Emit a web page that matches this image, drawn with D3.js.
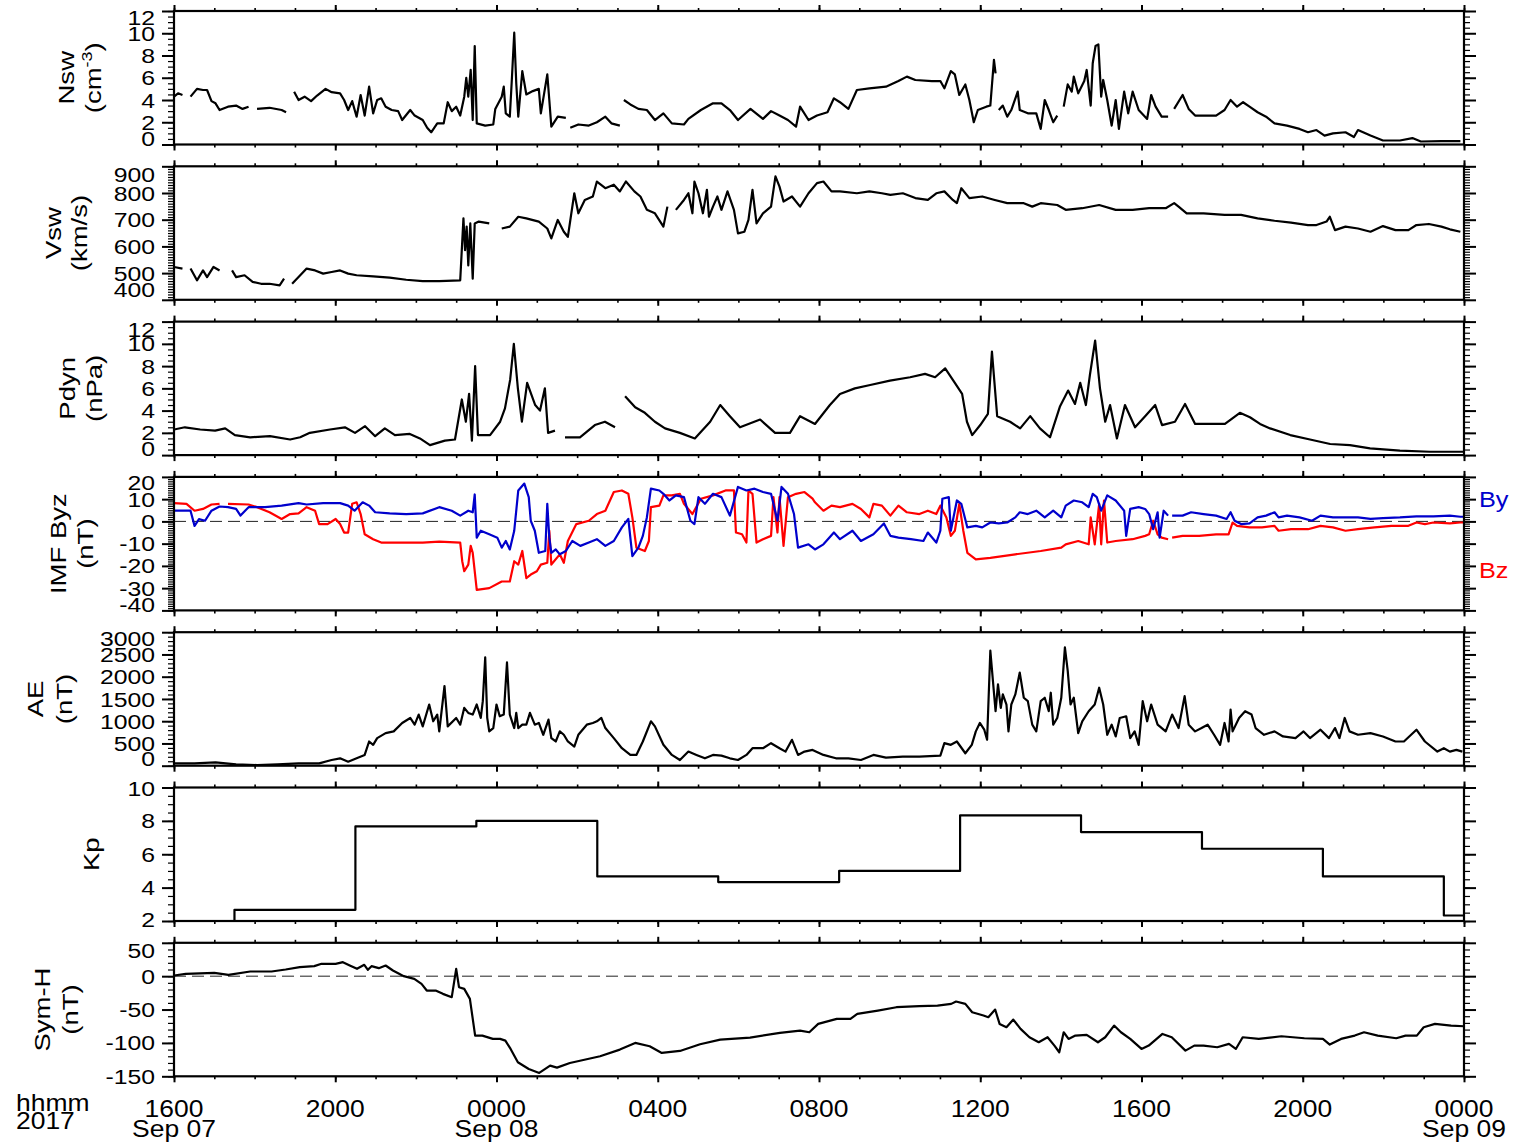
<!DOCTYPE html>
<html>
<head>
<meta charset="utf-8">
<script src="https://cdn.jsdelivr.net/npm/d3@7"></script>
<style>
    body { margin: 0; background: #fff; }
    svg text { font-family: "Liberation Sans", Arial, Helvetica, sans-serif; fill: #000; }
</style>
</head>
<body>
<svg id="chart" width="1514" height="1146"></svg>
<script>
// time is hours after 2017-09-07 16:00 UT (null = data gap)

const nsw = [
    [0,4.3],[0.1,4.6],[0.21,4.45],[0.3,null],[0.41,4.3],[0.57,5.0],[0.72,4.9],[0.82,4.9],[0.93,3.9],[1.03,3.7],
    [1.13,3.1],[1.34,3.4],[1.54,3.5],[1.7,3.2],[1.85,3.4],[1.95,null],[2.06,3.2],[2.37,3.3],[2.67,3.1],[2.78,2.9],
    [2.9,null],[2.98,4.75],[3.09,4.0],[3.24,4.3],[3.4,3.9],[3.55,4.4],[3.76,5.0],[3.91,4.7],[4.12,4.6],[4.22,4.0],
    [4.32,3.1],[4.42,3.9],[4.53,2.5],[4.63,4.45],[4.73,2.6],[4.84,5.2],[4.94,2.8],[5.04,4.0],[5.14,4.15],[5.25,3.4],
    [5.4,3.1],[5.56,3.0],[5.66,2.2],[5.86,3.1],[5.97,2.6],[6.17,2.2],[6.28,1.5],[6.38,1.1],[6.53,1.9],[6.69,1.9],
    [6.79,3.8],[6.89,3.0],[7.0,3.4],[7.1,2.6],[7.2,4.3],[7.25,6.0],[7.3,4.3],[7.36,6.7],[7.41,2.2],[7.46,8.85],
    [7.51,1.9],[7.72,1.7],[7.92,1.8],[7.97,3.2],[8.13,4.3],[8.18,5.2],[8.23,2.8],[8.33,2.5],[8.38,5.8],[8.44,10.05],
    [8.49,5.5],[8.54,2.5],[8.64,6.6],[8.74,4.5],[8.9,4.8],[9.05,5.0],[9.1,2.8],[9.26,6.3],[9.31,4.0],[9.36,1.6],
    [9.52,2.5],[9.72,2.4],[9.78,null],[9.83,1.5],[10.03,1.8],[10.29,1.7],[10.49,2.0],[10.7,2.5],[10.85,1.9],[11.06,1.7],
    [11.1,null],[11.16,4.0],[11.32,3.6],[11.52,3.2],[11.73,3.1],[11.93,2.2],[12.14,2.8],[12.35,1.9],[12.65,1.8],[12.76,2.3],
    [13.07,3.1],[13.37,3.7],[13.58,3.7],[13.79,3.1],[13.99,2.2],[14.3,3.2],[14.61,2.3],[14.81,3.0],[15.02,2.6],[15.23,2.2],
    [15.43,1.6],[15.53,3.4],[15.74,2.2],[15.95,2.6],[16.21,2.9],[16.37,4.15],[16.52,3.8],[16.73,3.2],[16.94,4.9],[17.25,5.05],
    [17.66,5.2],[17.97,5.7],[18.18,6.1],[18.39,5.8],[18.8,5.7],[19.01,5.7],[19.11,5.05],[19.27,6.6],[19.37,6.3],[19.48,4.45],
    [19.63,5.4],[19.73,4.0],[19.84,2.0],[19.94,3.1],[20.15,3.4],[20.25,3.5],[20.34,7.6],[20.38,6.4],[20.42,null],[20.46,3.1],
    [20.56,3.5],[20.67,2.5],[20.77,3.1],[20.93,4.75],[20.98,3.1],[21.18,2.8],[21.39,2.8],[21.5,1.4],[21.6,4.0],[21.7,3.1],
    [21.81,2.0],[21.91,2.6],[21.98,null],[22.07,3.4],[22.17,5.4],[22.27,4.75],[22.32,6.1],[22.43,4.6],[22.58,5.7],[22.64,6.7],
    [22.74,3.5],[22.79,7.3],[22.86,8.85],[22.93,9.0],[23.0,4.3],[23.05,5.8],[23.15,4.0],[23.26,1.7],[23.36,4.0],[23.44,1.4],
    [23.57,4.75],[23.67,2.8],[23.78,4.75],[23.93,3.1],[24.14,2.3],[24.24,4.45],[24.35,3.4],[24.5,2.5],[24.66,2.5],[24.72,null],
    [24.81,3.2],[25.02,4.45],[25.17,3.2],[25.33,2.6],[25.85,2.6],[26.06,3.1],[26.21,4.0],[26.37,3.4],[26.52,3.8],[26.68,3.4],
    [26.88,2.9],[27.09,2.5],[27.3,1.9],[27.61,1.7],[27.92,1.4],[28.13,1.1],[28.34,1.3],[28.54,0.8],[28.75,1.0],[29.06,1.1],
    [29.27,0.67],[29.37,1.3],[29.68,0.8],[29.99,0.36],[30.41,0.36],[30.72,0.58],[30.93,0.27],[31.44,0.3],[31.91,0.3]
];

const vsw = [
    [0,523],[0.21,517],[0.3,null],[0.41,517],[0.57,473],[0.72,510],[0.82,485],[0.98,523],[1.13,510],[1.25,null],
    [1.44,510],[1.54,485],[1.75,492],[1.95,467],[2.16,460],[2.37,460],[2.62,454],[2.73,479],[2.85,null],[2.93,460],
    [3.09,485],[3.29,517],[3.5,510],[3.7,498],[3.91,504],[4.12,510],[4.32,498],[4.53,492],[4.94,488],[5.35,483],
    [5.76,475],[6.17,470],[6.58,470],[7.1,473],[7.18,705],[7.22,586],[7.26,674],[7.3,529],[7.35,686],[7.41,479],
    [7.46,686],[7.56,693],[7.82,686],[7.95,null],[8.13,667],[8.33,674],[8.54,711],[8.74,705],[9.05,693],[9.26,667],
    [9.36,630],[9.52,699],[9.67,655],[9.77,636],[9.93,799],[10.03,724],[10.19,774],[10.39,787],[10.49,843],[10.7,818],
    [10.91,831],[11.06,806],[11.21,843],[11.42,806],[11.57,787],[11.73,737],[11.93,724],[12.14,674],[12.24,749],[12.32,null],
    [12.45,737],[12.65,774],[12.76,799],[12.86,724],[12.91,843],[13.01,799],[13.12,724],[13.22,812],[13.27,711],[13.37,749],
    [13.48,787],[13.58,737],[13.73,806],[13.89,737],[13.99,649],[14.15,655],[14.25,699],[14.35,812],[14.45,686],[14.61,724],
    [14.81,749],[14.92,862],[15.02,824],[15.12,768],[15.33,787],[15.53,749],[15.74,799],[15.95,837],[16.11,843],[16.31,806],
    [16.52,806],[16.94,799],[17.25,806],[17.56,799],[17.77,793],[18.08,799],[18.39,781],[18.7,774],[18.91,799],[19.11,806],
    [19.32,774],[19.42,762],[19.53,818],[19.73,781],[20.05,787],[20.36,774],[20.67,762],[21.08,762],[21.29,749],[21.5,762],
    [21.91,755],[22.12,737],[22.53,743],[22.95,755],[23.36,737],[23.78,737],[24.19,743],[24.6,743],[24.81,762],[24.92,749],
    [25.12,724],[25.54,724],[26.06,718],[26.47,718],[26.88,705],[27.3,696],[27.71,689],[28.13,680],[28.34,680],[28.59,693],
    [28.67,711],[28.8,661],[29.06,674],[29.37,667],[29.68,655],[29.99,676],[30.3,661],[30.62,661],[30.82,680],[31.13,684],
    [31.44,674],[31.65,664],[31.91,655]
];

const pdyn = [
    [0,2.3],[0.27,2.5],[0.65,2.3],[1.02,2.2],[1.27,2.4],[1.51,1.8],[1.89,1.6],[2.38,1.7],[2.88,1.4],[3.13,1.6],
    [3.37,2.0],[3.87,2.3],[4.24,2.5],[4.49,2.0],[4.74,2.6],[4.99,1.7],[5.23,2.4],[5.48,1.8],[5.85,1.9],[6.1,1.5],
    [6.35,0.9],[6.72,1.3],[6.97,1.4],[7.14,5.0],[7.24,3.0],[7.32,5.5],[7.39,1.3],[7.47,8.0],[7.54,1.8],[7.84,1.8],
    [8.09,3.0],[8.21,4.2],[8.34,6.8],[8.43,10.0],[8.53,6.0],[8.63,3.0],[8.76,6.5],[8.96,4.5],[9.08,4.0],[9.2,6.0],
    [9.28,2.0],[9.45,2.2],[9.55,null],[9.7,1.6],[10.07,1.6],[10.44,2.7],[10.69,3.0],[10.94,2.5],[11.05,null],[11.19,5.3],
    [11.44,4.3],[11.68,3.8],[11.93,3.0],[12.18,2.4],[12.55,2.0],[12.92,1.5],[13.3,3.0],[13.55,4.5],[13.79,3.5],[14.04,2.5],
    [14.54,3.2],[14.91,2.0],[15.28,2.0],[15.53,3.5],[15.9,2.8],[16.27,4.5],[16.52,5.5],[16.89,6.0],[17.27,6.3],[17.76,6.7],
    [18.26,7.0],[18.63,7.3],[18.88,7.0],[19.13,7.8],[19.37,6.5],[19.55,5.5],[19.67,3.0],[19.8,1.8],[20.0,2.7],[20.19,3.7],
    [20.29,9.3],[20.42,3.5],[20.74,3.0],[20.99,2.4],[21.24,3.5],[21.48,2.4],[21.73,1.6],[21.98,4.4],[22.18,5.8],[22.35,4.6],
    [22.48,6.5],[22.62,4.5],[22.72,7.2],[22.85,10.3],[22.97,6.0],[23.1,3.0],[23.22,4.5],[23.39,1.5],[23.59,4.5],[23.84,2.5],
    [24.09,3.5],[24.34,4.5],[24.51,2.7],[24.83,3.0],[25.08,4.6],[25.33,2.8],[25.7,2.8],[26.07,2.8],[26.44,3.8],[26.69,3.4],
    [26.94,2.8],[27.19,2.4],[27.69,1.8],[28.18,1.4],[28.68,1.0],[29.17,0.9],[29.67,0.6],[30.41,0.4],[31.16,0.3],[31.98,0.3]
];

const imf_by = [
    [0,4.8],[0.21,4.8],[0.41,4.8],[0.51,-2],[0.62,1],[0.77,0.3],[0.93,4.8],[1.13,6.7],[1.34,6.4],[1.54,5.6],
    [1.65,2.6],[1.85,6.4],[2.26,6.4],[2.67,7.1],[3.09,8.2],[3.29,7.6],[3.7,8.2],[4.12,8.2],[4.32,7.1],[4.48,4.8],
    [4.68,8.6],[4.84,7.1],[4.99,4.1],[5.35,3.6],[5.76,3.3],[6.17,3.6],[6.58,6.4],[6.89,4.8],[7.1,2.6],[7.3,4.8],
    [7.41,4.1],[7.46,12.1],[7.51,-7.3],[7.61,-4.2],[7.82,-5.8],[8.02,-7.3],[8.13,-11.8],[8.23,-8.8],[8.33,-12.6],[8.44,-4.2],
    [8.54,13.9],[8.69,17],[8.8,10.9],[8.85,0.3],[8.95,-4.2],[9.05,-14.1],[9.21,-13.3],[9.26,7.9],[9.31,-7.3],[9.36,-14.1],
    [9.47,-12.6],[9.57,-14.8],[9.72,-13.3],[9.88,-8.8],[10.08,-11],[10.29,-9.5],[10.49,-8.0],[10.7,-11],[10.91,-8.8],[11.11,-2.7],
    [11.27,1.1],[11.37,-15.6],[11.52,-11.8],[11.63,-6.5],[11.73,1.8],[11.83,14.7],[12.04,13.9],[12.14,12.4],[12.29,9.4],[12.45,11.7],
    [12.65,10.9],[12.81,0.3],[12.91,-1.2],[13.01,10.9],[13.17,7.9],[13.37,12.4],[13.58,10.9],[13.79,2.6],[13.99,15.5],[14.2,13.9],
    [14.4,14.7],[14.61,13.2],[14.81,12.4],[14.97,0.3],[15.07,15.5],[15.23,12.4],[15.38,3.3],[15.48,-11.8],[15.74,-10.3],[15.9,-12.6],
    [16.11,-10.3],[16.37,-5],[16.52,-8],[16.83,-4.2],[17.04,-8.8],[17.35,-5.8],[17.61,-0.9],[17.77,-6.5],[17.97,-7.3],[18.28,-8],
    [18.59,-8.8],[18.7,-5],[18.91,-9.5],[19.01,-4.2],[19.06,10.2],[19.22,10.9],[19.27,-4.2],[19.42,9.4],[19.53,7.9],[19.68,-2.7],
    [19.89,-2],[20.05,-2.7],[20.25,-0.5],[20.46,-0.9],[20.67,-0.5],[20.87,1.8],[20.98,4.1],[21.18,3.3],[21.39,4.8],[21.6,1.8],
    [21.81,4.8],[22.01,1.8],[22.12,7.1],[22.32,9.4],[22.53,8.6],[22.69,6.4],[22.79,12.4],[22.89,10.9],[23.0,4.8],[23.15,11.7],
    [23.36,9.4],[23.57,4.8],[23.62,-6.5],[23.72,5.6],[23.93,6.4],[24.09,5.6],[24.19,3.3],[24.29,-3.5],[24.4,4.1],[24.45,-7.3],
    [24.55,4.8],[24.66,2.6],[24.71,null],[24.76,2.6],[25.02,2.6],[25.23,4.1],[25.54,3.3],[25.85,2.6],[26.11,1.1],[26.21,4.1],
    [26.31,0.3],[26.47,-1.2],[26.68,-0.9],[26.88,1.8],[27.09,2.6],[27.3,4.1],[27.4,1.8],[27.61,2.6],[27.92,1.8],[28.23,0.3],
    [28.44,2.6],[28.75,1.8],[29.37,1.8],[29.68,1.1],[29.99,1.5],[30.41,1.8],[30.82,2.3],[31.24,2.3],[31.65,2.6],[31.91,2.1],[32,2.1]
];

const imf_bz = [
    [0,8.2],[0.31,7.9],[0.51,4.8],[0.72,5.6],[0.93,7.6],[1.13,7.9],[1.2,null],[1.34,7.9],[1.85,7.6],[2.06,6.4],
    [2.37,4.1],[2.67,1.1],[2.88,3.3],[3.09,3.6],[3.29,6.4],[3.5,4.8],[3.6,-1.2],[3.81,-1.2],[4.01,1.1],[4.12,-1.2],
    [4.22,-5],[4.32,-5],[4.42,7.9],[4.53,8.6],[4.63,3.3],[4.73,-5.8],[4.94,-8],[5.14,-9.5],[5.56,-9.5],[6.17,-9.5],
    [6.58,-9.1],[7.1,-9.5],[7.15,-17.9],[7.2,-22.4],[7.3,-19.4],[7.36,-11],[7.41,-14.1],[7.51,-30.8],[7.82,-30],[8.13,-27],
    [8.33,-27],[8.44,-17.9],[8.54,-19.4],[8.64,-13.3],[8.74,-25.5],[8.85,-23.9],[9.0,-22.4],[9.1,-19.4],[9.26,-18.6],[9.31,-4.2],
    [9.36,-19.4],[9.57,-14.8],[9.67,-18.6],[9.77,-8.8],[9.98,-1.2],[10.29,0.3],[10.49,3.3],[10.7,4.8],[10.91,13.2],[11.11,13.9],
    [11.27,12.4],[11.37,1.8],[11.47,-11.8],[11.68,-13.3],[11.78,-8.8],[11.83,6.4],[12.04,7.1],[12.14,11.7],[12.35,11.7],[12.55,12.4],
    [12.65,7.9],[12.86,3.3],[13.07,10.2],[13.37,11.7],[13.68,13.9],[13.89,13.9],[13.94,-5],[14.09,-5.8],[14.2,-9.5],[14.25,13.9],
    [14.35,12.4],[14.45,-9.5],[14.61,-8.0],[14.81,-6.5],[14.87,10.9],[14.97,-5],[15.02,10.9],[15.12,-11],[15.23,10.9],[15.43,12.4],
    [15.64,13.2],[15.84,10.2],[15.9,8.6],[16.11,4.8],[16.31,7.1],[16.52,6.4],[16.83,7.9],[17.04,5.6],[17.25,1.8],[17.35,7.9],
    [17.56,7.1],[17.77,2.6],[17.97,7.1],[18.18,4.1],[18.49,3.3],[18.7,4.8],[18.91,3.3],[19.01,7.1],[19.16,1.8],[19.27,-6.5],
    [19.37,-4.2],[19.48,7.9],[19.58,-4.2],[19.68,-14.1],[19.89,-17.1],[20.25,-16.4],[20.87,-14.8],[21.5,-13.3],[22.01,-11.8],[22.12,-10.3],
    [22.43,-8.8],[22.69,-10.3],[22.74,1.8],[22.84,-10.3],[22.95,7.9],[23.0,-10.3],[23.07,9.4],[23.15,-9.5],[23.36,-8.8],[23.78,-8],
    [24.09,-6.5],[24.19,-5.8],[24.29,0.3],[24.4,-5.8],[24.5,-7.3],[24.66,-8],[24.71,null],[24.76,-7.3],[25.02,-6.5],[25.43,-6.5],
    [25.85,-5.8],[26.16,-5.8],[26.26,-0.5],[26.37,-2],[26.68,-2.7],[26.99,-2.7],[27.3,-2],[27.4,-4.2],[27.71,-3.5],[28.13,-3.5],
    [28.44,-2],[28.75,-2.7],[29.06,-4.2],[29.37,-3.5],[29.78,-2.7],[30.2,-2],[30.62,-2],[30.82,-0.5],[31.03,-1.2],[31.24,-0.5],
    [31.65,-0.9],[31.91,-0.5],[32,-0.5]
];

const ae = [
    [0,53],[0.51,53],[1.03,76],[1.54,30],[2.06,15],[2.57,30],[3.09,53],[3.6,53],[3.91,128],[4.12,166],
    [4.32,91],[4.53,166],[4.73,242],[4.84,544],[4.94,469],[5.04,620],[5.25,733],[5.45,771],[5.66,960],[5.86,1073],
    [5.97,922],[6.07,1149],[6.17,884],[6.33,1375],[6.43,998],[6.53,1149],[6.58,771],[6.71,1791],[6.79,884],[7.0,1073],
    [7.1,922],[7.2,1300],[7.3,1186],[7.41,1149],[7.51,1375],[7.61,1073],[7.66,1451],[7.72,2433],[7.77,1073],[7.82,771],
    [7.92,846],[8.0,1375],[8.08,1111],[8.18,1149],[8.26,2320],[8.33,1149],[8.44,846],[8.49,1186],[8.54,846],[8.64,922],
    [8.74,922],[8.83,1186],[8.95,922],[9.05,960],[9.16,695],[9.29,1035],[9.36,620],[9.47,544],[9.57,771],[9.67,695],
    [9.77,544],[9.93,431],[10.03,695],[10.24,922],[10.39,960],[10.49,998],[10.6,1073],[10.7,846],[10.91,620],[11.11,393],
    [11.32,242],[11.47,242],[11.63,544],[11.83,998],[11.93,884],[12.14,469],[12.35,242],[12.55,128],[12.76,317],[12.96,242],
    [13.17,166],[13.37,242],[13.58,227],[13.79,166],[13.99,128],[14.2,242],[14.35,393],[14.61,393],[14.81,506],[15.02,393],
    [15.17,317],[15.33,582],[15.48,242],[15.64,317],[15.84,355],[16.11,242],[16.42,166],[16.73,166],[17.04,128],[17.35,242],
    [17.66,181],[18.08,204],[18.49,204],[19.01,227],[19.11,506],[19.27,469],[19.42,544],[19.63,280],[19.79,469],[19.89,771],
    [19.99,960],[20.1,809],[20.17,582],[20.25,2584],[20.3,2056],[20.38,1224],[20.44,1829],[20.51,1300],[20.56,1602],[20.65,1375],
    [20.7,771],[20.77,1375],[20.87,1602],[20.98,2093],[21.08,1527],[21.18,1451],[21.29,922],[21.39,771],[21.5,1451],[21.6,1527],
    [21.7,1224],[21.75,1640],[21.81,922],[21.91,1073],[22.01,1527],[22.1,2660],[22.17,2131],[22.24,1375],[22.32,1527],[22.43,733],
    [22.53,998],[22.69,1224],[22.84,1375],[22.95,1753],[23.05,1375],[23.15,695],[23.26,922],[23.36,657],[23.46,1073],[23.62,1111],
    [23.72,620],[23.83,771],[23.93,469],[24.03,1451],[24.14,998],[24.24,1375],[24.4,922],[24.6,771],[24.76,1149],[24.92,846],
    [25.07,1564],[25.17,922],[25.33,771],[25.49,846],[25.64,922],[25.8,695],[25.95,469],[26.06,960],[26.16,544],[26.21,1262],
    [26.26,771],[26.42,1073],[26.57,1224],[26.73,1149],[26.83,846],[27.04,695],[27.3,771],[27.51,657],[27.82,620],[28.02,771],
    [28.18,620],[28.44,809],[28.65,620],[28.8,846],[28.91,620],[29.04,1073],[29.16,771],[29.37,695],[29.68,733],[29.99,657],
    [30.3,544],[30.51,544],[30.82,809],[31.03,544],[31.34,317],[31.5,393],[31.65,317],[31.81,355],[31.96,317]
];

// Kp is plotted as steps that change half way through each 3 h interval
const kp_times = [0, 1.5, 4.5, 7.5, 10.5, 13.5, 16.5, 19.5, 22.5, 25.5, 28.5, 31.5, 32];
const kp_values = [2, 2.67, 7.67, 8, 4.67, 4.33, 5, 8.33, 7.33, 6.33, 4.67, 2.33, 2.33];

const sym_h = [
    [0,1],[0.29,3.5],[1.0,5],[1.35,2],[1.89,7],[2.42,7],[2.77,10],[3.12,13.5],[3.48,15],[3.66,18.5],
    [4.01,18.5],[4.19,21],[4.36,16],[4.54,11],[4.72,17],[4.81,9.5],[4.9,15],[5.08,12],[5.25,16],[5.43,8.5],
    [5.7,0],[5.96,-4],[6.14,-11.5],[6.27,-21.5],[6.49,-21.5],[6.67,-26.5],[6.89,-31.5],[7.0,11],[7.07,-16.5],[7.2,-19],
    [7.34,-34],[7.47,-89],[7.65,-89],[7.91,-94],[8.09,-94],[8.22,-96.5],[8.35,-109],[8.53,-129],[8.8,-139],[9.06,-145],
    [9.33,-134],[9.5,-137],[9.82,-130],[10.57,-120],[11.06,-110],[11.44,-100],[11.8,-105],[12.1,-115],[12.55,-112],[13.05,-102],
    [13.55,-95],[14.29,-92],[15.03,-85],[15.53,-81.5],[15.76,-84],[15.98,-71.5],[16.44,-64],[16.78,-64],[16.95,-56.5],[17.46,-51.5],
    [17.92,-46.5],[18.49,-45],[18.94,-44],[19.28,-41.5],[19.4,-38],[19.63,-41.5],[19.8,-54],[20.08,-59],[20.2,-61.5],[20.37,-50],
    [20.48,-71.5],[20.65,-76.5],[20.82,-65],[21.0,-79],[21.22,-91.5],[21.45,-99],[21.67,-91.5],[21.84,-104],[21.96,-114],[22.07,-84],
    [22.19,-94],[22.36,-89],[22.64,-88],[22.92,-99],[23.1,-91.5],[23.32,-74],[23.49,-84],[23.72,-94],[24.0,-109],[24.18,-104],
    [24.52,-86.5],[24.75,-91.5],[25.09,-111.5],[25.31,-104],[25.54,-104],[25.88,-106.5],[26.17,-101.5],[26.34,-109],[26.51,-91.5],[26.91,-94],
    [27.47,-90],[28.04,-93],[28.5,-94],[28.67,-102.5],[28.95,-94],[29.29,-89],[29.52,-84],[29.86,-89],[30.32,-93],[30.55,-89],
    [30.83,-89],[31.0,-76.5],[31.28,-71.5],[31.68,-74],[32,-75]
];


const t0 = Date.UTC(2017, 8, 7, 16);
const to_date = h => new Date(t0 + h*3600e3);

const left = 174, right = 1464;
const first_top = 11, panel_h = 133.5, panel_step = 155.3;
// the original lettering is wider than Helvetica, so text is stretched sideways
const tick_font = 21, tick_stretch = 1.18;
const title_font = 21.5, title_stretch = 1.28;
const time_font = 23, time_stretch = 1.15;

const kp = kp_times.map((t, i) => [t, kp_values[i]]);

// title_x holds the baseline x of each title line (text is turned by -90 degrees)
const panels = [
    {title: ["Nsw", "(cm|-3|)"], title_x: [74, 101], domain: [0, 12], major: 2, minor: 0.5, clamp: [6, 6], series: [{data: nsw, color: "#000"}]},
    {title: ["Vsw", "(km/s)"], title_x: [61, 87], domain: [400, 900], major: 100, minor: 10, clamp: [8, 10], series: [{data: vsw, color: "#000"}]},
    {title: ["Pdyn", "(nPa)"], title_x: [75, 102], domain: [0, 12], major: 2, minor: 0.5, clamp: [8, 7], series: [{data: pdyn, color: "#000"}]},
    {title: ["IMF Byz", "(nT)"], title_x: [66, 93], domain: [-40, 20], major: 10, minor: 1, clamp: [6, 6], zero: true,
        series: [{data: imf_bz, color: "#ff0000", label: "Bz", label_dy: 101}, {data: imf_by, color: "#0000cc", label: "By", label_dy: 30}]},
    {title: ["AE", "(nT)"], title_x: [43, 72], domain: [0, 3000], major: 500, minor: 100, clamp: [6, 7], series: [{data: ae, color: "#000"}]},
    {title: ["Kp"], title_x: [99], domain: [2, 10], major: 2, minor: 0.5, clamp: [1, 2], series: [{data: kp, color: "#000", step: true}]},
    {title: ["Sym-H", "(nT)"], title_x: [50, 78], domain: [-150, 50], major: 50, minor: 10, clamp: [8, 0], zero: true, series: [{data: sym_h, color: "#000"}]},
];

const svg = d3.select("#chart");

// scale_x
const x = d3.scaleUtc().domain([to_date(0), to_date(32)]).range([left, right]);
const hour_ticks = x.ticks(d3.utcHour.every(1));
const major_hours = hour_ticks.filter(d => d.getUTCHours() % 4 === 0);

const steps = (lo, hi, s) => d3.range(Math.round((hi - lo)/s) + 1).map(i => lo + i*s);

panels.forEach((p, i) => {
    const top = first_top + i*panel_step, bottom = top + panel_h;
    const y = d3.scaleLinear().domain(p.domain).range([bottom, top]);
    const g = svg.append("g");

    g.append("clipPath").attr("id", `clip${i}`)
        .append("rect").attr("x", left).attr("y", top).attr("width", right - left).attr("height", panel_h);

    // zero line
    if (p.zero) {
        g.append("line")
            .attr("x1", left).attr("x2", right).attr("y1", y(0)).attr("y2", y(0))
            .attr("stroke", "#222").attr("stroke-width", 1).attr("stroke-dasharray", "12,6");
    }

    // series
    p.series.forEach(s => {
        const line = d3.line()
            .defined(d => d[1] !== null)
            .x(d => x(to_date(d[0])))
            .y(d => y(d[1]))
            .curve(s.step ? d3.curveStepAfter : d3.curveLinear);
        g.append("path").datum(s.data)
            .attr("clip-path", `url(#clip${i})`)
            .attr("d", line)
            .attr("fill", "none")
            .attr("stroke", s.color)
            .attr("stroke-width", 2.2)
            .attr("stroke-linejoin", "round");
        if (s.label) {
            g.append("text")
                .attr("transform", `translate(${right + 15}, ${top + s.label_dy}) scale(1.15, 1)`)
                .attr("font-size", 22).style("fill", s.color)
                .text(s.label);
        }
    });

    // frame
    g.append("rect")
        .attr("x", left).attr("y", top).attr("width", right - left).attr("height", panel_h)
        .attr("fill", "none").attr("stroke", "#000").attr("stroke-width", 2.2);

    // ticks_x, top and bottom, pointing out of the panel
    const x_ticks = (axis, yy, size, values, w) => {
        g.append("g").attr("transform", `translate(0, ${yy})`)
            .call(axis(x).tickValues(values).tickSize(size).tickSizeOuter(0).tickFormat(""))
            .call(a => a.select(".domain").remove())
            .call(a => a.selectAll("line").attr("stroke-width", w));
    };
    x_ticks(d3.axisTop, top, 3, hour_ticks, 1.6);
    x_ticks(d3.axisTop, top, 6, major_hours, 2);
    x_ticks(d3.axisBottom, bottom, 3, hour_ticks, 1.6);
    x_ticks(d3.axisBottom, bottom, 6, major_hours, 2);

    // ticks_y, left and right
    const minor = steps(p.domain[0], p.domain[1], p.minor);
    const major = steps(p.domain[0], p.domain[1], p.major);
    const y_ticks = (axis, xx, size, values, w) => {
        g.append("g").attr("transform", `translate(${xx}, 0)`)
            .call(axis(y).tickValues(values).tickSize(size).tickSizeOuter(0).tickFormat(""))
            .call(a => a.select(".domain").remove())
            .call(a => a.selectAll("line").attr("stroke-width", w));
    };
    y_ticks(d3.axisLeft, left, 6, minor, 1.2);
    y_ticks(d3.axisLeft, left, 12, major, 2);
    y_ticks(d3.axisRight, right, 6, minor, 1.2);
    y_ticks(d3.axisRight, right, 12, major, 2);

    // labels_y, kept inside the panel height
    g.append("g").selectAll("text").data(major).enter().append("text")
        .attr("transform", d => {
            const yy = Math.max(top + p.clamp[0], Math.min(bottom - p.clamp[1], y(d)));
            return `translate(${left - 19}, ${yy}) scale(${tick_stretch}, 1)`;
        })
        .attr("dy", "0.36em")
        .attr("text-anchor", "end")
        .attr("font-size", tick_font)
        .text(d => d);

    // title_y
    const cy = (top + bottom)/2;
    p.title.forEach((line_text, k) => {
        const t = g.append("text")
            .attr("transform", `translate(${p.title_x[k]}, ${cy}) rotate(-90) scale(${title_stretch}, 1)`)
            .attr("text-anchor", "middle")
            .attr("font-size", title_font);
        const parts = line_text.split("|");
        if (parts.length === 3) {
            t.append("tspan").text(parts[0]);
            t.append("tspan").attr("dy", -9).attr("font-size", 14).text(parts[1]);
            t.append("tspan").attr("dy", 9).text(parts[2]);
        } else {
            t.text(line_text);
        }
    });

    // labels_x on the last panel
    if (i === panels.length - 1) {
        const fmt_hm = d3.utcFormat("%H%M"), fmt_day = d3.utcFormat("%b %d");
        const lab = g.append("g").selectAll("text").data(major_hours).enter();
        lab.append("text")
            .attr("transform", d => `translate(${x(d)}, ${bottom + 41}) scale(${time_stretch}, 1)`)
            .attr("text-anchor", "middle").attr("font-size", time_font)
            .text(d => fmt_hm(d));
        lab.filter(d => d.getUTCHours() === 0 || +d === t0).append("text")
            .attr("transform", d => `translate(${x(d)}, ${bottom + 61}) scale(${time_stretch}, 1)`)
            .attr("text-anchor", "middle").attr("font-size", time_font)
            .text(d => fmt_day(d));
        g.append("text").attr("transform", `translate(16, ${bottom + 35}) scale(${time_stretch}, 1)`)
            .attr("font-size", time_font).text("hhmm");
        g.append("text").attr("transform", `translate(16, ${bottom + 53}) scale(${time_stretch}, 1)`)
            .attr("font-size", time_font).text("2017");
    }
});
</script>
</body>
</html>
